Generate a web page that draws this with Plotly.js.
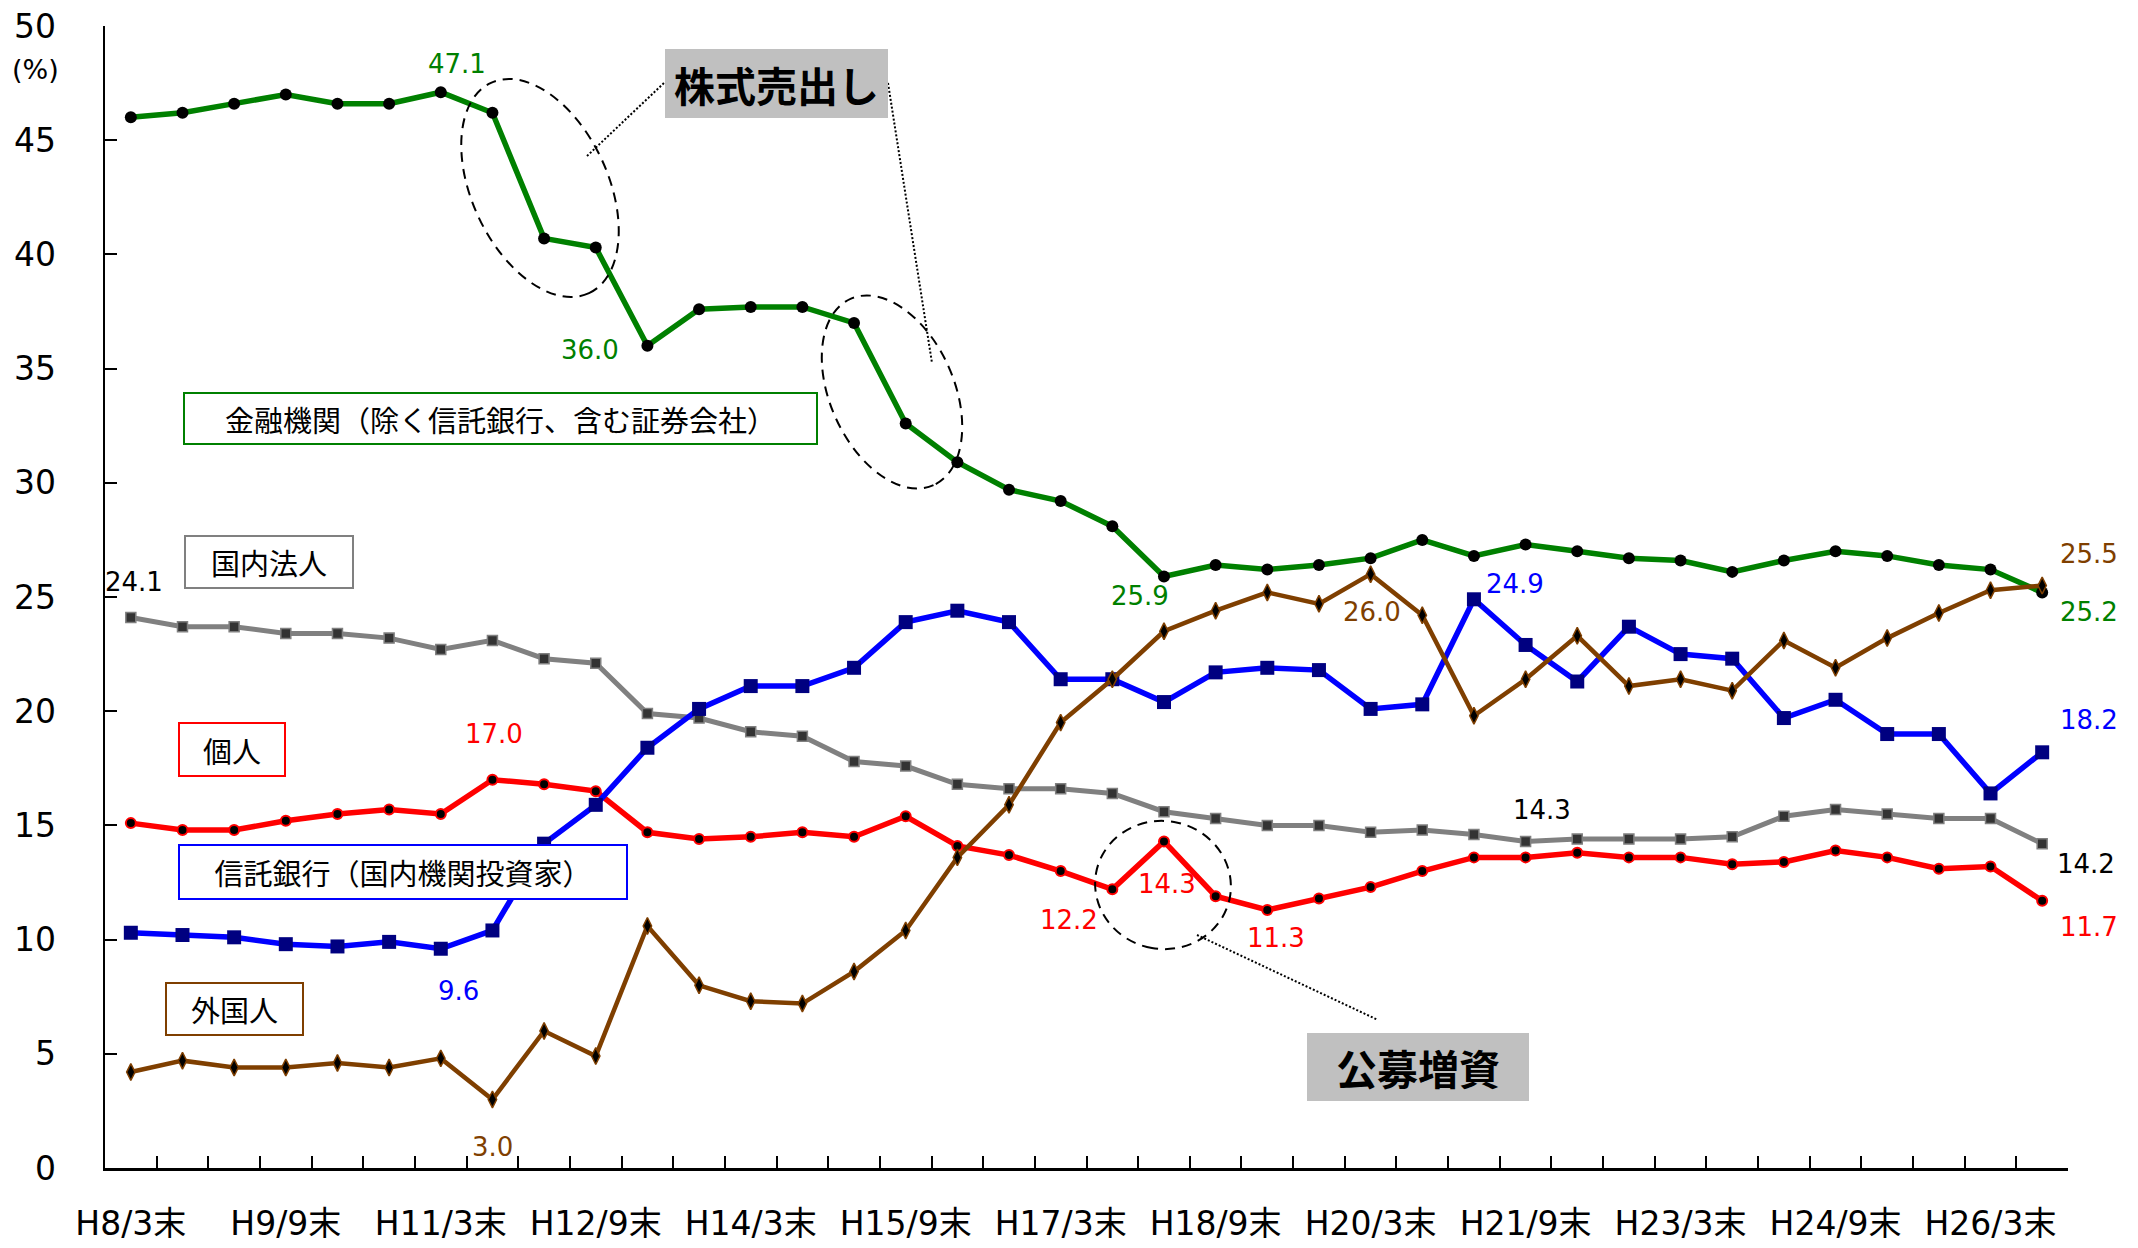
<!DOCTYPE html>
<html>
<head>
<meta charset="utf-8">
<script src="https://cdn.plot.ly/plotly-3.0.1.min.js"></script>
<style>html,body{margin:0;padding:0;background:#fff;}#chart{width:2138px;height:1248px;}</style>
</head>
<body>
<div id="chart"></div>
<script>
// ---- data ----
const periods = ["H8/3末","H8/9末","H9/3末","H9/9末","H10/3末","H10/9末","H11/3末","H11/9末","H12/3末","H12/9末",
  "H13/3末","H13/9末","H14/3末","H14/9末","H15/3末","H15/9末","H16/3末","H16/9末","H17/3末","H17/9末",
  "H18/3末","H18/9末","H19/3末","H19/9末","H20/3末","H20/9末","H21/3末","H21/9末","H22/3末","H22/9末",
  "H23/3末","H23/9末","H24/3末","H24/9末","H25/3末","H25/9末","H26/3末","H26/9末"];
const shownTicks = ["H8/3末","H9/9末","H11/3末","H12/9末","H14/3末","H15/9末","H17/3末","H18/9末","H20/3末","H21/9末","H23/3末","H24/9末","H26/3末"];

const financial = [46.0,46.2,46.6,47.0,46.6,46.6,47.1,46.2,40.7,40.3,36.0,37.6,37.7,37.7,37.0,32.6,30.9,29.7,29.2,28.1,
  25.9,26.4,26.2,26.4,26.7,27.5,26.8,27.3,27.0,26.7,26.6,26.1,26.6,27.0,26.8,26.4,26.2,25.2];
const individual = [15.1,14.8,14.8,15.2,15.5,15.7,15.5,17.0,16.8,16.5,14.7,14.4,14.5,14.7,14.5,15.4,14.1,13.7,13.0,12.2,
  14.3,11.9,11.3,11.8,12.3,13.0,13.6,13.6,13.8,13.6,13.6,13.3,13.4,13.9,13.6,13.1,13.2,11.7];
const corporate = [24.1,23.7,23.7,23.4,23.4,23.2,22.7,23.1,22.3,22.1,19.9,19.7,19.1,18.9,17.8,17.6,16.8,16.6,16.6,16.4,
  15.6,15.3,15.0,15.0,14.7,14.8,14.6,14.3,14.4,14.4,14.4,14.5,15.4,15.7,15.5,15.3,15.3,14.2];
const trustBanks = [10.3,10.2,10.1,9.8,9.7,9.9,9.6,10.4,14.2,15.9,18.4,20.1,21.1,21.1,21.9,23.9,24.4,23.9,21.4,21.4,
  20.4,21.7,21.9,21.8,20.1,20.3,24.9,22.9,21.3,23.7,22.5,22.3,19.7,20.5,19.0,19.0,16.4,18.2];
const foreigners = [4.2,4.7,4.4,4.4,4.6,4.4,4.8,3.0,6.0,4.9,10.6,8.0,7.3,7.2,8.6,10.4,13.6,15.9,19.5,21.4,
  23.5,24.4,25.2,24.7,26.0,24.2,19.8,21.4,23.3,21.1,21.4,20.9,23.1,21.9,23.2,24.3,25.3,25.5];

const seriesNames = {
  financial: "金融機関（除く信託銀行、含む証券会社）",
  corporate: "国内法人",
  individual: "個人",
  trustBanks: "信託銀行（国内機関投資家）",
  foreigners: "外国人"
};
const noteSale = "株式売出し";
const noteOffering = "公募増資";

// ---- geometry helpers (page pixels -> paper) ----
const L = 105, R = 2068, T = 26, B = 1168;
const px = x => (x - L) / (R - L);
const py = y => (B - y) / (B - T);

const GREEN = "#008000", RED = "#FF0000", GRAY = "#808080", BLUE = "#0000FF", BROWN = "#7F3F00";
const NUMFONT = "'DejaVu Sans', 'Noto Sans CJK JP', sans-serif";
const JPFONT = "'Noto Sans CJK JP', sans-serif";

function trace(y, lineColor, lw, marker) {
  return {x: periods, y: y, type: "scatter", mode: "lines+markers", cliponaxis: false,
    line: {color: lineColor, width: lw}, marker: marker, hoverinfo: "skip"};
}
const traces = [
  trace(corporate, GRAY, 5, {symbol: "square", size: 10, color: "#333333", line: {color: GRAY, width: 1.5}}),
  trace(individual, RED, 5.5, {symbol: "circle", size: 10, color: "#000000", line: {color: RED, width: 2}}),
  trace(trustBanks, BLUE, 5.5, {symbol: "square", size: 14, color: "#000080", line: {width: 0}}),
  trace(financial, GREEN, 5.5, {symbol: "circle", size: 12, color: "#000000", line: {width: 0}}),
  trace(foreigners, BROWN, 4.5, {symbol: "diamond-tall", size: 12, color: "#000000", line: {color: BROWN, width: 1.5}})
];

// ---- data labels ----
function dl(arr, i, dx, dy, color) {
  return {xref: "x", yref: "y", x: periods[i], y: arr[i], text: arr[i].toFixed(1), showarrow: false,
    xshift: dx, yshift: dy, font: {family: NUMFONT, size: 26, color: color}};
}
const annotations = [
  dl(financial, 6, 16, 28, GREEN), dl(financial, 10, -57, -4, GREEN), dl(financial, 20, -24, -20, GREEN), dl(financial, 37, 47, -20, GREEN),
  dl(corporate, 0, 3, 36, "#000"), dl(corporate, 27, 16, 31, "#000"), dl(corporate, 37, 44, -20, "#000"),
  dl(individual, 7, 2, 46, RED), dl(individual, 19, -43, -31, RED), dl(individual, 20, 3, -43, RED), dl(individual, 22, 9, -28, RED), dl(individual, 37, 47, -26, RED),
  dl(trustBanks, 6, 18, -42, BLUE), dl(trustBanks, 26, 41, 15, BLUE), dl(trustBanks, 37, 47, 32, BLUE),
  dl(foreigners, 7, 0, -48, BROWN), dl(foreigners, 24, 1, -38, BROWN), dl(foreigners, 37, 47, 32, BROWN)
];

function box(text, x0, x1, y0, y1, border, bg, size, bold) {
  return {xref: "paper", yref: "paper", x: px((x0 + x1) / 2), y: py((y0 + y1) / 2), xanchor: "center", yanchor: "middle",
    text: bold ? "<b>" + text + "</b>" : text, showarrow: false, width: x1 - x0 - 2, height: y1 - y0 - 2, align: "center", valign: "middle",
    bgcolor: bg, bordercolor: border || "rgba(0,0,0,0)", borderwidth: border ? 2 : 0, borderpad: 0,
    font: {family: JPFONT, size: size, color: "#000"}};
}
annotations.push(
  box(seriesNames.financial, 184, 817, 393, 444, GREEN, "#fff", 29, false),
  box(seriesNames.corporate, 185, 353, 536, 588, GRAY, "#fff", 29, false),
  box(seriesNames.individual, 179, 285, 723, 776, RED, "#fff", 29, false),
  box(seriesNames.trustBanks, 179, 627, 845, 899, BLUE, "#fff", 29, false),
  box(seriesNames.foreigners, 166, 303, 983, 1035, BROWN, "#fff", 29, false),
  box(noteSale, 664, 889, 48, 119, null, "#C0C0C0", 41, true),
  box(noteOffering, 1306, 1530, 1032, 1102, null, "#C0C0C0", 41, true)
);
annotations.push({xref: "paper", yref: "paper", x: px(35), y: py(70), xanchor: "center", yanchor: "middle",
  text: "(%)", showarrow: false, font: {family: NUMFONT, size: 27, color: "#000"}});

// ---- dashed ellipses & dotted leaders ----
function ellipsePath(cx, cy, a, b, deg) {
  const th = deg * Math.PI / 180, k = 0.5523;
  const u = [Math.sin(th), Math.cos(th)], v = [-Math.cos(th), Math.sin(th)];
  const P = (s, t) => px(cx + s * a * u[0] + t * b * v[0]).toFixed(5) + "," + py(cy + s * a * u[1] + t * b * v[1]).toFixed(5);
  return "M" + P(1, 0) +
    " C" + P(1, k) + " " + P(k, 1) + " " + P(0, 1) +
    " C" + P(-k, 1) + " " + P(-1, k) + " " + P(-1, 0) +
    " C" + P(-1, -k) + " " + P(-k, -1) + " " + P(0, -1) +
    " C" + P(k, -1) + " " + P(1, -k) + " " + P(1, 0) + " Z";
}
const dashLine = {color: "#000", width: 2, dash: "10px,7px"};
const dotLine = {color: "#000", width: 2, dash: "2px,2px"};
const shapes = [
  {type: "path", xref: "paper", yref: "paper", path: ellipsePath(540, 188, 116, 68, 25), line: dashLine, layer: "above"},
  {type: "path", xref: "paper", yref: "paper", path: ellipsePath(892, 392, 102, 62, 24), line: dashLine, layer: "above"},
  {type: "path", xref: "paper", yref: "paper", path: ellipsePath(1163, 885, 64, 68, -10), line: dashLine, layer: "above"},
  {type: "line", xref: "paper", yref: "paper", x0: px(587), y0: py(156), x1: px(664), y1: py(83), line: dotLine, layer: "above"},
  {type: "line", xref: "paper", yref: "paper", x0: px(888), y0: py(83), x1: px(932), y1: py(363), line: dotLine, layer: "above"},
  {type: "line", xref: "paper", yref: "paper", x0: px(1197), y0: py(935), x1: px(1378), y1: py(1020), line: dotLine, layer: "above"}
];

const layout = {
  width: 2138, height: 1248,
  margin: {l: L, r: 2138 - R, t: T, b: 1248 - B, pad: 0},
  paper_bgcolor: "#fff", plot_bgcolor: "#fff",
  showlegend: false,
  xaxis: {type: "category", range: [-0.5, 37.5], tickmode: "array", tickvals: periods,
    ticktext: periods.map(p => shownTicks.includes(p) ? p : ""),
    tickson: "boundaries", ticks: "inside", ticklen: 12, tickwidth: 2, tickcolor: "#000",
    showline: true, linecolor: "#000", linewidth: 3, showgrid: false, zeroline: false, tickangle: 0,
    ticklabelstandoff: 24, ticklabeloverflow: "allow", tickfont: {family: NUMFONT, size: 33, color: "#000"}},
  yaxis: {range: [0, 50], tickmode: "array", tickvals: [0,5,10,15,20,25,30,35,40,45,50], ticks: "inside", ticklen: 12, tickwidth: 2, tickcolor: "#000",
    showline: true, linecolor: "#000", linewidth: 2.5, showgrid: false, zeroline: false,
    ticklabelstandoff: 40, ticklabeloverflow: "allow", tickfont: {family: NUMFONT, size: 33, color: "#000"}},
  annotations: annotations,
  shapes: shapes
};
Plotly.newPlot("chart", traces, layout, {displayModeBar: false, staticPlot: true});
</script>
</body>
</html>
